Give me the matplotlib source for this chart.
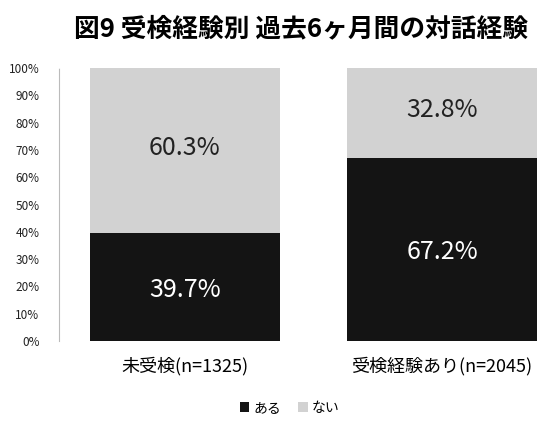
import matplotlib.pyplot as plt
import numpy as np

plt.rcParams['font.family'] = ['Noto Sans CJK JP', 'DejaVu Sans']

categories = ['未受検(n=1325)', '受検経験あり(n=2045)']
aru = [39.7, 67.2]
nai = [60.3, 32.8]
yticks = [0, 10, 20, 30, 40, 50, 60, 70, 80, 90, 100]

fig = plt.figure(figsize=(5.57, 4.23), dpi=100)
ax = fig.add_axes([59 / 557, 1 - 341 / 423, (557 - 59) / 557, (341 - 68) / 423])

x = np.arange(len(categories))
w = 0.74
b1 = ax.bar(x, aru, w, color='#141414', label='ある')
b2 = ax.bar(x, nai, w, bottom=aru, color='#d2d2d2', label='ない')

for xi, a, n in zip(x, aru, nai):
    ax.text(xi, a / 2 - 1, f'{a:.1f}%', ha='center', va='center', color='white', fontsize=18)
    ax.text(xi, a + n / 2 + 1, f'{n:.1f}%', ha='center', va='center', color='#222222', fontsize=18)

ax.set_xlim((59 - 185) / 257, (557 - 185) / 257)
ax.set_ylim(0, 100)
ax.set_yticks(yticks)
ax.set_yticklabels([f'{t}%' for t in yticks], fontsize=8.5, color='#222222')
ax.set_xticks(x)
ax.set_xticklabels(categories, fontsize=13)
ax.tick_params(length=0, pad=11)
ax.tick_params(axis='y', pad=14)
for s in ['top', 'right', 'bottom']:
    ax.spines[s].set_visible(False)
ax.spines['left'].set_color('#bbbbbb')
ax.spines['left'].set_linestyle((0, (1, 1)))

fig.suptitle('図9 受検経験別 過去6ヶ月間の対話経験', x=0.54, y=0.965, fontsize=18.5, fontweight='bold')
fig.legend(loc='center', bbox_to_anchor=(0.52, 0.035), ncol=2, frameon=False,
           fontsize=10, handlelength=0.7, handleheight=0.7, handletextpad=0.3, columnspacing=1.2)

fig.savefig('out.png', dpi=100)
